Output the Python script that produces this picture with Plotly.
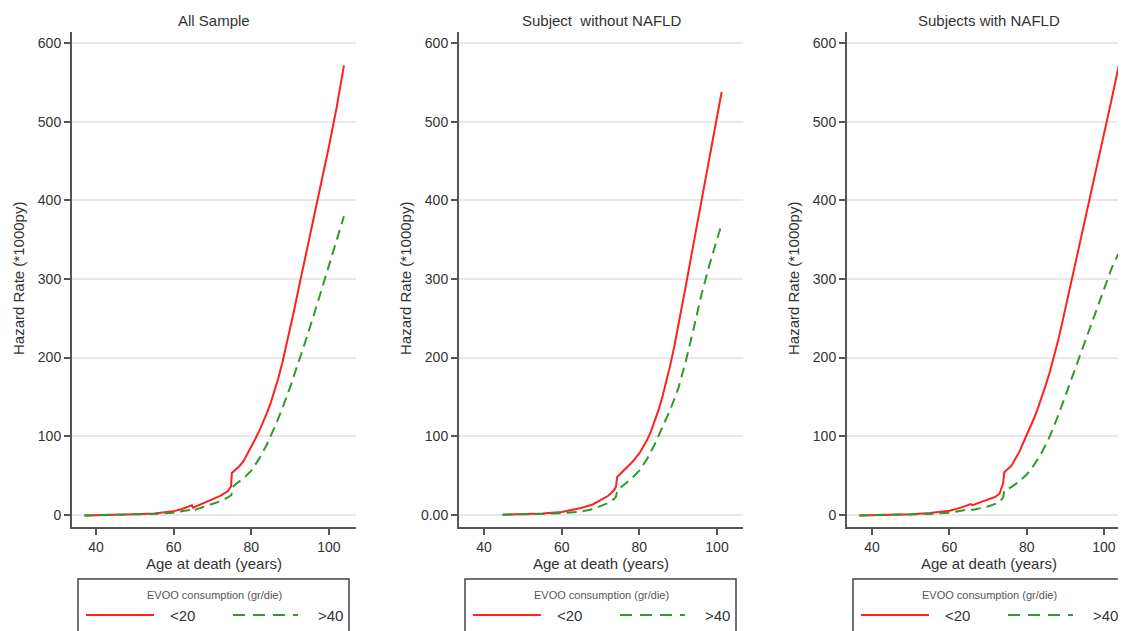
import plotly.graph_objects as go

W, H = 1126, 631
OFF = 8  # default page body margin
FW, FH = W - OFF, H - OFF

panel_titles = ["All Sample", "Subject  without NAFLD", "Subjects with NAFLD"]
series_names = ["<20", ">40"]
legend_title = "EVOO consumption (gr/die)"
x_title = "Age at death (years)"
y_title = "Hazard Rate (*1000py)"
x_ticks = [40, 60, 80, 100]
y_ticks = [0, 100, 200, 300, 400, 500, 600]
y_ticklabels_std = ["0", "100", "200", "300", "400", "500", "600"]
y_ticklabels_p2 = ["0.00", "100", "200", "300", "400", "500", "600"]

# Panel 1: All Sample
age_red_1 = [37, 40, 45, 50, 55, 58, 60, 62, 64, 64.7, 65, 66, 68, 70, 72, 74, 74.8, 75, 76, 77, 78, 79, 80,
             81, 82, 83, 84, 85, 86, 87, 88, 89, 90, 91, 92, 94, 96, 98, 100, 102, 103.9]
hr_red_1 = [-1, -0.8, -0.3, 0.5, 1.5, 3, 4.5, 7, 10, 12, 9, 11, 15, 19, 24, 30, 36, 53, 57, 62, 68, 77, 87,
            96, 106, 117, 129, 142, 157, 174, 193, 214, 236, 259, 283, 329, 375, 421, 468, 518, 572]
age_grn_1 = [37, 40, 45, 50, 55, 60, 62, 64, 64.8, 65.2, 66, 68, 70, 72, 74, 74.9, 75.2, 76, 78, 80, 82, 84,
             86, 88, 90, 92, 94, 96, 98, 100, 102, 103.9]
hr_grn_1 = [-1, -0.8, -0.3, 0.3, 1, 2.5, 4, 6, 8, 5.5, 7, 10, 13, 17, 22, 25, 35, 39, 46, 56, 71, 89,
            111, 135, 162, 191, 221, 252, 285, 318, 350, 380]

# Panel 2: Subject without NAFLD
age_red_2 = [44.8, 48, 50, 55, 60, 63, 65, 68, 70, 72, 73.5, 74, 74.3, 76, 78, 80, 81, 82, 83, 84, 85, 86,
             87, 88, 89, 90, 91, 92, 94, 96, 98, 100, 101.2]
hr_red_2 = [0, 0.2, 0.5, 1.5, 3.5, 6, 8.5, 13, 18, 24, 31, 36, 48, 56, 66, 78, 86, 95, 106, 119, 134, 151,
            170, 191, 214, 239, 265, 292, 346, 400, 453, 505, 538]
age_grn_2 = [44.8, 50, 55, 60, 65, 68, 70, 72, 73.5, 74, 74.3, 76, 78, 80, 82, 84, 86, 88, 90, 92, 94, 96,
             98, 100, 101.2]
hr_grn_2 = [0, 0.3, 1, 2, 4, 7, 10.5, 15, 20, 23, 31, 38, 46, 56, 71, 90, 112, 134, 160, 196, 237, 280,
            317, 350, 370]

# Panel 3: Subjects with NAFLD
age_red_3 = [36.7, 40, 45, 50, 55, 60, 63, 65.5, 66, 68, 70, 72, 73, 73.9, 74.2, 76, 78, 80, 81, 82, 83, 84,
             85, 86, 87, 88, 89, 90, 91, 92, 94, 96, 98, 100, 102, 103.9]
hr_red_3 = [-1, -0.8, -0.3, 0.5, 2, 5, 9, 13.5, 12, 16, 19, 23, 27, 40, 54, 62, 79, 101, 112, 124, 137, 151,
            166, 182, 200, 219, 240, 262, 285, 308, 353, 398, 442, 486, 529, 573]
age_grn_3 = [36.7, 40, 45, 50, 55, 60, 63, 65.5, 66, 68, 70, 72, 73, 73.9, 74.2, 76, 78, 80, 82, 84, 86, 88,
             90, 92, 94, 96, 98, 100, 102, 103.7]
hr_grn_3 = [-1, -0.8, -0.3, 0.3, 1, 2.5, 4.5, 7, 6, 8.5, 10.5, 14, 16, 22, 31, 35, 42, 51, 64, 80, 100, 124,
            151, 178, 206, 234, 261, 288, 314, 332]

panels = [
    (age_red_1, hr_red_1, age_grn_1, hr_grn_1),
    (age_red_2, hr_red_2, age_grn_2, hr_grn_2),
    (age_red_3, hr_red_3, age_grn_3, hr_grn_3),
]

RED = "#ff2020"
GREEN = "#2e9a2e"
AXIS = "#555555"
TXT = "#333333"
FONT = "Liberation Sans, Arial, sans-serif"
DASH = "10px,6px"

# pixel geometry (window coordinates) of the three plot areas
axis_left = [72, 459, 847]
axis_right = [356, 743, 1126]
x_ranges = [[33.8, 107.0], [33.56, 106.7], [33.5, 105.7]]
top_px, bot_px = 32, 527
y_range = [-15.7, 614.4]


def px(x):
    return (x - OFF) / FW


def py(y):
    return 1 - (y - OFF) / FH


fig = go.Figure()
shapes = []
annotations = []

for i, (ar, hr_r, ag, hr_g) in enumerate(panels):
    n = "" if i == 0 else str(i + 1)
    fig.add_trace(go.Scatter(x=ar, y=hr_r, mode="lines", name=series_names[0],
                             line=dict(color=RED, width=2), xaxis="x" + n, yaxis="y" + n,
                             showlegend=False))
    fig.add_trace(go.Scatter(x=ag, y=hr_g, mode="lines", name=series_names[1],
                             line=dict(color=GREEN, width=2, dash=DASH), xaxis="x" + n, yaxis="y" + n,
                             showlegend=False))
    xa = dict(domain=[px(axis_left[i]), min(1.0, px(axis_right[i]))], range=x_ranges[i], anchor="y" + n,
              tickvals=x_ticks, ticks="outside", ticklen=6, tickwidth=1.5, tickcolor=AXIS,
              showline=True, linecolor=AXIS, linewidth=2, showgrid=False, zeroline=False,
              tickfont=dict(family=FONT, size=14, color=TXT))
    ya = dict(domain=[py(bot_px), py(top_px)], range=y_range, anchor="x" + n,
              tickvals=y_ticks, ticktext=(y_ticklabels_p2 if i == 1 else y_ticklabels_std),
              ticks="outside", ticklen=6, tickwidth=1.5, tickcolor=AXIS,
              showline=True, linecolor=AXIS, linewidth=2, showgrid=True, gridcolor="#e8e8e8",
              gridwidth=1.5, zeroline=False, tickfont=dict(family=FONT, size=14, color=TXT))
    fig.update_layout(**{"xaxis" + n: xa, "yaxis" + n: ya})

    a = axis_left[i]
    cx = (axis_left[i] + (axis_right[i] if i < 2 else 1131)) / 2
    annotations.append(dict(text=panel_titles[i], x=px(cx), y=py(21), xref="paper", yref="paper",
                            showarrow=False, xanchor="center", yanchor="middle",
                            font=dict(family=FONT, size=15, color=TXT)))
    annotations.append(dict(text=x_title, x=px(cx), y=py(563), xref="paper", yref="paper",
                            showarrow=False, xanchor="center", yanchor="middle",
                            font=dict(family=FONT, size=15, color=TXT)))
    annotations.append(dict(text=y_title, x=px(a - 54), y=py(279), xref="paper", yref="paper",
                            showarrow=False, xanchor="center", yanchor="middle", textangle=-90,
                            font=dict(family=FONT, size=15, color=TXT)))
    # legend box
    shapes.append(dict(type="rect", xref="paper", yref="paper", x0=px(a + 6), x1=px(a + 277),
                       y0=py(579), y1=py(645), line=dict(color="#444444", width=1.5),
                       fillcolor="white", layer="above"))
    annotations.append(dict(text=legend_title, x=px(a + 142), y=py(595), xref="paper", yref="paper",
                            showarrow=False, xanchor="center", yanchor="middle",
                            font=dict(family=FONT, size=11, color="#555555")))
    shapes.append(dict(type="line", xref="paper", yref="paper", x0=px(a + 14), x1=px(a + 82),
                       y0=py(615), y1=py(615), line=dict(color=RED, width=2)))
    shapes.append(dict(type="line", xref="paper", yref="paper", x0=px(a + 161), x1=px(a + 226),
                       y0=py(615), y1=py(615), line=dict(color=GREEN, width=2, dash="12px,8px")))
    annotations.append(dict(text=series_names[0], x=px(a + 96), y=py(615), xref="paper", yref="paper",
                            showarrow=False, xanchor="left", yanchor="middle",
                            font=dict(family=FONT, size=15, color=TXT)))
    annotations.append(dict(text=series_names[1], x=px(a + 244), y=py(615), xref="paper", yref="paper",
                            showarrow=False, xanchor="left", yanchor="middle",
                            font=dict(family=FONT, size=15, color=TXT)))

fig.update_layout(width=FW, height=FH, margin=dict(l=0, r=0, t=0, b=0),
                  paper_bgcolor="white", plot_bgcolor="white", showlegend=False,
                  shapes=shapes, annotations=annotations)

fig.write_html("out.html")
